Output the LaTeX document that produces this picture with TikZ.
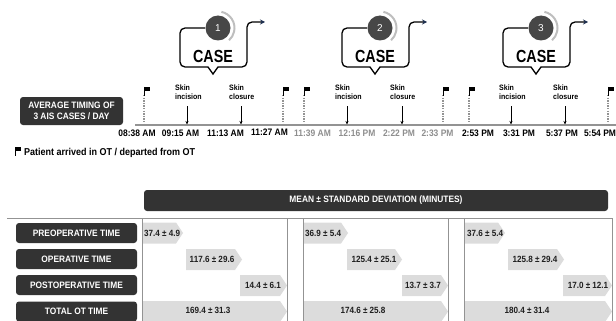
\documentclass[tikz,border=0pt]{standalone}
\usepackage{fontspec}
\setmainfont{Liberation Sans}[FakeStretch=0.9]
\newfontfamily\numfont{Liberation Sans}
\usetikzlibrary{arrows.meta}
\definecolor{darkfill}{HTML}{333333}
\definecolor{valfill}{HTML}{DCDCDC}
\definecolor{gridgrey}{HTML}{939393}
\definecolor{timegrey}{HTML}{8E8E8E}
\definecolor{arcgrey}{HTML}{BEBEBE}
\definecolor{circfill}{HTML}{474747}
\definecolor{navyarrow}{HTML}{1E2F4F}
\newcommand\valshape[3]{\fill[valfill] (#1,#3-10.5) -- (#2-7,#3-10.5) -- (#2,#3) -- (#2-7,#3+10.5) -- (#1,#3+10.5) -- cycle;}
\newcommand\flagmark[2]{%
  \draw[flagpole] (#1,#2) -- (#1,#2+9);
  \fill[black] (#1,#2) rectangle (#1+6,#2+4);}
\newcommand\casebubble[2]{%
  \begin{scope}[xshift=#1pt]
    \draw[line width=1.3pt, -{Stealth[length=5pt,width=5pt,color=navyarrow]}]
      (25,28) [rounded corners=5pt] -- (0,28) -- (0,67) [sharp corners] -- (28,67) -- (33,74) -- (38,67)
      [rounded corners=5pt] -- (67,67) -- (67,22) -- (85,22);
    \draw[arcgrey, line width=2pt] (38,28) ++(-78:16.5) arc[start angle=-78, end angle=48, radius=16.5];
    \node[numcirc] (num#2) at (38,28) {#2};
    \node[casetext] (case#2) at (33,56.5) {\scalebox{0.91}[1]{CASE}};
  \end{scope}}
\begin{document}
\begin{tikzpicture}[x=1pt,y=-1pt,
  darkbox/.style={fill=darkfill, rounded corners=3pt, text=white, font=\fontsize{9.3}{11}\selectfont\bfseries, inner sep=0pt, align=center},
  rowlab/.style={darkbox, minimum width=121pt, minimum height=20pt},
  valtext/.style={font=\fontsize{9}{10.5}\selectfont\bfseries, inner sep=0pt, text=black!88},
  timelab/.style={font=\fontsize{9.4}{11}\selectfont\bfseries, inner sep=0pt},
  skinlab/.style={font=\fontsize{7.8}{9}\selectfont\bfseries, align=left, anchor=north west, inner sep=0pt},
  numcirc/.style={circle, fill=circfill, minimum size=25pt, inner sep=0pt, text=white, font=\numfont\fontsize{10}{12}\selectfont},
  casetext/.style={font=\fontsize{17.5}{20}\selectfont\bfseries, inner sep=0pt},
  flagpole/.style={line width=1pt, black},
  dotline/.style={gridgrey, line width=1.2pt, dash pattern=on 1.3pt off 1.3pt},
  skinarrow/.style={line width=0.6pt, -{Stealth[length=3.5pt,width=3pt]}},
  gridline/.style={gridgrey, line width=1pt}]
\useasboundingbox (0,0) rectangle (616,321);

% ---- case bubbles
\casebubble{180}{1}
\casebubble{342}{2}
\casebubble{503}{3}

% ---- timeline
\coordinate (tlstart) at (135,125);
\coordinate (tlend) at (616,125);
\draw[gridgrey, line width=1.3pt] (tlstart) -- (tlend);

\node[darkbox, minimum width=103pt, minimum height=28pt] (avg) at (71.5,111) {AVERAGE TIMING OF\\3 AIS CASES / DAY};

% flags with dotted lines
\foreach \fx [count=\i] in {144,283,304,443,469,608}{
  \coordinate (fltop\i) at (\fx,95);
  \coordinate (flbot\i) at (\fx,124.5);
  \draw[dotline] (fltop\i) -- (flbot\i);
  \flagmark{\fx}{87}
}

% skin incision / closure arrows
\foreach \ax/\lab [count=\i] in {187/incision,241/closure,347/incision,402/closure,511/incision,565/closure}{
  \node[skinlab] (skin\i) at (\ax-12,84.5) {Skin\\\lab};
  \coordinate (sktop\i) at (\ax,106);
  \coordinate (skbot\i) at (\ax,124.5);
  \draw[skinarrow] (sktop\i) -- (skbot\i);
}

% times
\node[timelab] (t1) at (137,133.5) {08:38 AM};
\node[timelab] (t2) at (180.5,133.5) {09:15 AM};
\node[timelab] (t3) at (225.5,133.5) {11:13 AM};
\node[timelab] (t4) at (269.5,132) {11:27 AM};
\node[timelab, text=timegrey] (t5) at (312.5,133.5) {11:39 AM};
\node[timelab, text=timegrey] (t6) at (357,133.5) {12:16 PM};
\node[timelab, text=timegrey] (t7) at (399,133.5) {2:22 PM};
\node[timelab, text=timegrey] (t8) at (437.5,133.5) {2:33 PM};
\node[timelab] (t9) at (478,133.5) {2:53 PM};
\node[timelab] (t10) at (519,133.5) {3:31 PM};
\node[timelab] (t11) at (562,133.5) {5:37 PM};
\node[timelab] (t12) at (600,133.5) {5:54 PM};

% legend
\flagmark{15}{147}
\node[font=\fontsize{10}{12}\selectfont\bfseries, anchor=west, inner sep=0pt] (legend) at (24,153) {Patient arrived in OT / departed from OT};

% ---- table
\node[darkbox, minimum width=464pt, minimum height=21pt] (header) at (376,200.5) {MEAN ± STANDARD DEVIATION (MINUTES)};

\node[rowlab] (pre) at (76.5,233) {PREOPERATIVE TIME};
\node[rowlab] (op) at (76.5,259) {OPERATIVE TIME};
\node[rowlab] (post) at (76.5,285) {POSTOPERATIVE TIME};
\node[rowlab] (tot) at (76.5,311.5) {TOTAL OT TIME};

% column 1
\valshape{142}{183}{233}
\valshape{186}{242}{259.5}
\valshape{240}{287}{285.5}
\valshape{142}{287}{311.5}
\node[valtext, anchor=west] (v11) at (144,233) {37.4 ± 4.9};
\node[valtext] (v12) at (212,259.5) {117.6 ± 29.6};
\node[valtext] (v13) at (263,285.5) {14.4 ± 6.1};
\node[valtext] (v14) at (208,310.5) {169.4 ± 31.3};
% column 2
\valshape{303}{348}{233}
\valshape{347}{402}{259.5}
\valshape{402}{448}{285.5}
\valshape{303}{448}{311.5}
\node[valtext, anchor=west] (v21) at (305,233) {36.9 ± 5.4};
\node[valtext] (v22) at (374,259.5) {125.4 ± 25.1};
\node[valtext] (v23) at (423,285.5) {13.7 ± 3.7};
\node[valtext] (v24) at (363,310.5) {174.6 ± 25.8};
% column 3
\valshape{464}{505}{233}
\valshape{508}{564}{259.5}
\valshape{563}{612}{285.5}
\valshape{464}{612}{311.5}
\node[valtext, anchor=west] (v31) at (467,233) {37.6 ± 5.4};
\node[valtext] (v32) at (535,259.5) {125.8 ± 29.4};
\node[valtext] (v33) at (588,285.5) {17.0 ± 12.1};
\node[valtext] (v34) at (527,310.5) {180.4 ± 31.4};

% grid lines
\draw[gridline] (7,218) -- (612,218);
\foreach \gx in {142,287,303,448,464,612}{
  \draw[gridline] (\gx,218) -- (\gx,322);
}
\end{tikzpicture}
\end{document}
